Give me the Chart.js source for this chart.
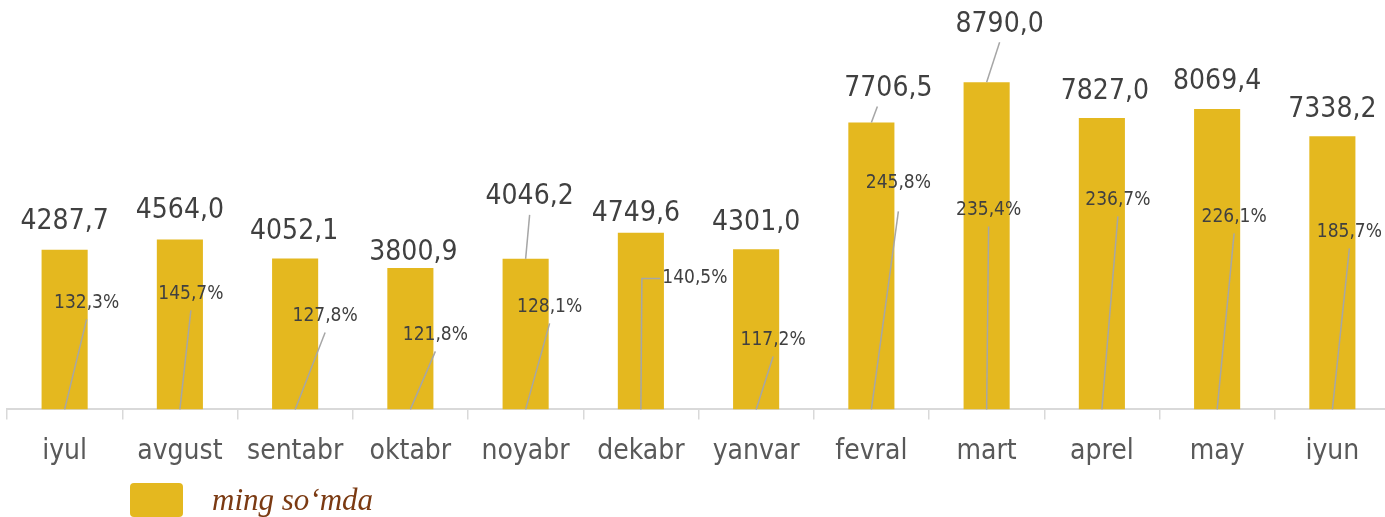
<!DOCTYPE html>
<html>
<head>
<meta charset="utf-8">
<script src="https://cdn.jsdelivr.net/npm/chart.js@4/dist/chart.umd.min.js"></script>
<style>
  html, body { margin: 0; padding: 0; background: #ffffff; overflow: hidden; }
  #wrap { position: relative; width: 1392px; height: 517px; }
</style>
</head>
<body>
<div id="wrap"><canvas id="c"></canvas></div>
<script>
// ---- data ----
const months = ["iyul", "avgust", "sentabr", "oktabr", "noyabr", "dekabr", "yanvar", "fevral", "mart", "aprel", "may", "iyun"];
const values = [4287.7, 4564.0, 4052.1, 3800.9, 4046.2, 4749.6, 4301.0, 7706.5, 8790.0, 7827.0, 8069.4, 7338.2];
const growthPct = [132.3, 145.7, 127.8, 121.8, 128.1, 140.5, 117.2, 245.8, 235.4, 236.7, 226.1, 185.7];
const seriesName = "ming so\u2018mda";

// ---- label layout (offsets in px, not data) ----
// value labels: [dx from bar centre, dy from bar top, leader line?]
const valueLabelOffset = [
  [0, -28, false], [0, -29, false], [-1, -27, false], [3, -15, false],
  [4, -62, true], [-5, -19, false], [0, -27, false], [17, -34, true],
  [13, -58, true], [3, -26, false], [0, -27, false], [0, -27, false]
];
// percent labels: [dx from bar centre, height above axis, elbow?]
const pctLabelOffset = [
  [22, 106, false], [11, 115, false], [30, 93, false], [25, 74, false],
  [24, 102, false], [54, 131, true], [17, 69, false], [27, 226, false],
  [2, 199, false], [16, 209, false], [17, 192, false], [17, 177, false]
];

const FONT = "'DejaVu Sans Condensed', 'DejaVu Sans', sans-serif";
const fmt = v => v.toFixed(1).replace('.', ',');

const labelPlugin = {
  id: 'labelPlugin',
  afterDatasetsDraw(chart) {
    const ctx = chart.ctx;
    const meta = chart.getDatasetMeta(0);
    const base = chart.scales.y.getPixelForValue(0);
    ctx.save();
    // percent labels with leader lines
    ctx.font = "19px " + FONT;
    ctx.textAlign = 'center';
    ctx.textBaseline = 'middle';
    meta.data.forEach((bar, i) => {
      const [dx, h, elbow] = pctLabelOffset[i];
      const lx = bar.x + dx, ly = base - h;
      const txt = fmt(growthPct[i]) + '%';
      ctx.strokeStyle = '#A6A6A6';
      ctx.lineWidth = 1.5;
      ctx.beginPath();
      if (elbow) {
        const w = ctx.measureText(txt).width;
        ctx.moveTo(lx - w / 2 - 2, ly);
        ctx.lineTo(bar.x + 1, ly);
        ctx.lineTo(bar.x, base);
      } else {
        ctx.moveTo(lx, ly + (i === 7 ? 28 : 16));
        ctx.lineTo(bar.x, base);
      }
      ctx.stroke();
      ctx.fillStyle = '#404040';
      ctx.fillText(txt, lx, ly);
    });
    // value labels
    ctx.font = "28px " + FONT;
    meta.data.forEach((bar, i) => {
      const [dx, dy, leader] = valueLabelOffset[i];
      const lx = bar.x + dx, ly = bar.y + dy;
      if (leader) {
        ctx.strokeStyle = '#A6A6A6';
        ctx.lineWidth = 1.5;
        ctx.beginPath();
        ctx.moveTo(lx + (i === 7 ? -11 : 0), ly + 18);
        ctx.lineTo(bar.x, bar.y);
        ctx.stroke();
      }
      ctx.fillStyle = '#404040';
      ctx.fillText(fmt(values[i]), lx, ly);
    });
    ctx.restore();
  },
  afterDraw(chart) {
    // legend
    const ctx = chart.ctx;
    const ds = chart.data.datasets[0];
    ctx.save();
    ctx.fillStyle = ds.backgroundColor;
    ctx.beginPath();
    if (ctx.roundRect) ctx.roundRect(130, 483, 53, 34, 4); else ctx.rect(130, 483, 53, 34);
    ctx.fill();
    ctx.fillStyle = '#7B3A12';
    ctx.font = "italic 31px 'Liberation Serif', 'DejaVu Serif', serif";
    ctx.textAlign = 'left';
    ctx.textBaseline = 'alphabetic';
    ctx.fillText(ds.label, 212, 510);
    ctx.restore();
  }
};

new Chart(document.getElementById('c'), {
  type: 'bar',
  data: {
    labels: months,
    datasets: [{
      label: seriesName,
      data: values,
      backgroundColor: '#E4B81F',
      barPercentage: 0.4,
      categoryPercentage: 1.0
    }]
  },
  options: {
    responsive: true,
    maintainAspectRatio: false,
    animation: false,
    layout: { padding: { left: 7, right: 2, top: 0, bottom: 32 } },
    plugins: { legend: { display: false }, tooltip: { enabled: false } },
    scales: {
      x: {
        grid: { offset: true, drawOnChartArea: false, drawTicks: true, tickLength: 10, color: '#D9D9D9', lineWidth: 1.5 },
        border: { display: true, color: '#D9D9D9', width: 2 },
        ticks: { color: '#595959', padding: 16, font: { family: FONT, size: 28, lineHeight: 1.2 }, maxRotation: 0, autoSkip: false }
      },
      y: { display: false, min: 0, max: 11000 }
    }
  },
  plugins: [labelPlugin]
});
</script>
</body>
</html>
